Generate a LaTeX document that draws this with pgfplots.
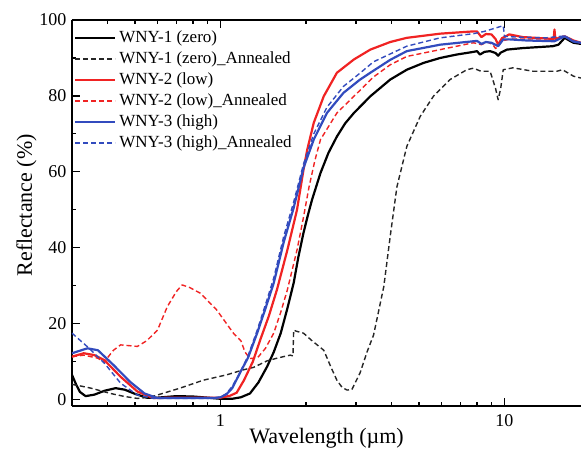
\documentclass[border=0pt]{standalone}
\usepackage{fontspec}
\setmainfont{LiberationSerif}[Extension=.ttf, UprightFont=*-Regular, BoldFont=*-Bold, ItalicFont=*-Italic, BoldItalicFont=*-BoldItalic]
\usepackage{pgfplots}
\pgfplotsset{compat=1.18}
\definecolor{myred}{RGB}{240,35,35}
\definecolor{myblue}{RGB}{50,75,190}
\begin{document}
\begin{tikzpicture}
\begin{axis}[name=ax, scale only axis, width=509pt, height=386pt,
  xmode=log, xmin=0.3, xmax=18.6, ymin=-1.7, ymax=100,
  axis x line*=box, axis y line*=left, tick align=inside,
  xtick={1,10}, xticklabels={1,10},
  minor xtick={0.4,0.5,0.6,0.7,0.8,0.9,2,3,4,5,6,7,8,9,20},
  ytick={0,20,40,60,80,100}, minor ytick={10,30,50,70,90},
  major tick length=8.5pt, minor tick length=4.5pt,
  every tick/.style={black, line width=1.2pt},
  axis line style={line width=1.4pt},
  /pgf/number format/assume math mode=true,
  tick label style={font=\fontsize{18}{21}\selectfont},
  yticklabel style={xshift=-2pt},
  xticklabel style={yshift=-5pt},
  label style={font=\fontsize{22}{26}\selectfont},
  xlabel={Wavelength (µm)}, ylabel={Reflectance (\%)},
  xlabel style={at={([yshift=-37pt]axis description cs:0.5,0)}, anchor=base},
  ylabel style={at={([xshift=-40pt]axis description cs:0,0.52)}, anchor=base},
  legend style={at={(0,1)}, anchor=north west, draw=none, fill=none, inner sep=0pt,
    xshift=2pt, yshift=-9pt, font=\fontsize{17}{20}\selectfont,
    nodes={inner xsep=3pt, inner ysep=1pt, text height=12pt, text depth=4pt},
    row sep=3pt},
  legend cell align=left,
  legend image code/.code={\draw[#1] (0pt,0pt) -- (40pt,0pt);},
  every axis plot/.append style={line join=round},
]
% WNY-1 (zero)
\addplot[black, line width=2.2pt] coordinates {
(0.300,6.5)(0.310,4.0)(0.320,2.0)(0.335,0.9)(0.36,1.3)(0.39,2.3)(0.427,3.0)(0.46,2.6)(0.50,1.5)(0.55,0.5)(0.60,0.5)(0.70,0.9)(0.80,0.8)(0.90,0.5)(1.00,0.2)(1.10,0.2)(1.18,0.6)(1.27,1.6)(1.36,4.5)(1.46,8.7)(1.54,12.5)(1.63,17.5)(1.72,24)(1.81,30.7)(1.88,37.5)(1.96,43.9)(2.03,48.5)(2.10,52.6)(2.25,59.7)(2.40,65)(2.57,69.3)(2.75,72.8)(2.95,75.5)(3.37,79.9)(3.96,84.3)(4.53,86.9)(5.19,88.7)(5.94,90)(6.79,90.9)(7.78,91.6)(8.0,91.8)(8.2,90.9)(8.5,91.6)(8.9,91.8)(9.3,91.3)(9.5,90.6)(9.7,91.4)(10.2,92.2)(11.6,92.6)(14.8,93.1)(15.5,93.5)(16.3,95.3)(17.0,94.5)(17.5,94)(18.6,93.7)};
\addlegendentry{WNY-1 (zero)}
\addplot[black!85, line width=1.4pt, dash pattern=on 5pt off 3pt] coordinates {
(0.300,4.0)(0.32,3.6)(0.35,3.0)(0.41,1.6)(0.46,0.8)(0.51,0.3)(0.56,0.6)(0.60,1.2)(0.72,3.0)(0.87,5.1)(1.05,6.5)(1.20,7.8)(1.31,8.5)(1.46,10.2)(1.60,11.0)(1.76,11.7)(1.80,11.5)(1.81,18.3)(1.85,18.0)(1.96,17.5)(2.10,15.5)(2.31,13)(2.45,8.5)(2.57,5.1)(2.68,3.2)(2.79,2.5)(2.90,2.6)(3.10,7)(3.28,12.5)(3.46,17)(3.76,29.8)(3.96,43)(4.18,56)(4.53,66.7)(5.05,74.6)(5.62,79.9)(6.43,84.3)(7.37,86.9)(7.78,87.3)(8.2,86.6)(8.44,86.5)(8.9,86.5)(9.3,82)(9.5,79)(9.7,82)(9.9,86.9)(10.7,87.4)(12.6,86.5)(15.3,86.5)(16.0,86.9)(17.5,85.2)(18.6,84.7)};
\addlegendentry{WNY-1 (zero)\_Annealed}
% WNY-2 (low)
\addplot[myred, line width=2.2pt] coordinates {
(0.300,11.3)(0.33,12.2)(0.36,11.7)(0.39,10.4)(0.445,6.0)(0.51,2.1)(0.58,0.4)(0.70,0.5)(0.85,0.5)(1.00,0.5)(1.08,1.0)(1.14,1.8)(1.21,5.1)(1.30,10)(1.38,15.7)(1.48,22)(1.58,28.9)(1.72,39.4)(1.86,50)(1.96,60.5)(2.02,65.8)(2.13,72.9)(2.31,79.9)(2.57,86.1)(2.95,89.6)(3.37,92.2)(3.96,94.2)(4.53,95.3)(5.94,96.4)(7.78,97)(8.0,97)(8.3,95.5)(8.6,96.3)(9.0,96.2)(9.3,95.0)(9.5,93.5)(9.8,95.2)(10.4,96.2)(11.6,95.5)(14.9,95.0)(15.0,97.5)(15.1,95.0)(16.3,95.7)(17.5,94.6)(18.6,94.0)};
\addlegendentry{WNY-2 (low)}
\addplot[myred, line width=1.4pt, dash pattern=on 5pt off 3pt] coordinates {
(0.300,11.3)(0.33,11.7)(0.37,10.9)(0.39,9.8)(0.40,11)(0.42,13)(0.445,14.4)(0.51,14.0)(0.55,15.5)(0.60,18.3)(0.65,24.5)(0.70,28.5)(0.733,30.2)(0.78,29.5)(0.85,28)(0.97,23.6)(1.11,17.5)(1.18,15.5)(1.22,12.5)(1.27,10.8)(1.35,11)(1.44,13.5)(1.54,17.5)(1.63,23)(1.72,28.9)(1.86,39.4)(1.96,48)(2.05,56)(2.15,63)(2.25,68.5)(2.57,75.5)(2.95,79.9)(3.46,85)(3.96,88.2)(4.53,90.4)(5.94,92.2)(7.78,94)(8.3,93.5)(8.7,94.2)(9.1,93.5)(9.3,92.5)(9.5,93.0)(9.8,94.5)(10.5,95.0)(12,95)(14,95)(16.3,95.7)(17.5,94.5)(18.6,94)};
\addlegendentry{WNY-2 (low)\_Annealed}
% WNY-3 (high)
\addplot[myblue, line width=2.2pt] coordinates {
(0.300,12.2)(0.34,13.5)(0.37,13.0)(0.42,9.1)(0.48,4.7)(0.54,1.6)(0.60,0.4)(0.75,0.4)(0.95,0.4)(1.00,0.6)(1.05,1.4)(1.10,3.0)(1.18,7.5)(1.25,11)(1.346,17.5)(1.44,24)(1.54,30.7)(1.67,41.5)(1.81,50.5)(1.96,61)(2.13,68.5)(2.37,75.5)(2.71,80.8)(3.1,84.3)(3.37,86.1)(3.96,89.5)(4.53,91.8)(5.94,93.5)(7.78,94.4)(8.0,94.5)(8.3,93.7)(8.6,94.2)(9.0,94)(9.5,93.1)(9.9,94.9)(10.4,94.9)(12,94.6)(15,94.4)(16.3,95.7)(17.5,94.3)(18.6,94)};
\addlegendentry{WNY-3 (high)}
\addplot[myblue, line width=1.4pt, dash pattern=on 5pt off 3pt] coordinates {
(0.300,17.5)(0.34,13.9)(0.39,9.6)(0.445,4.3)(0.51,1.2)(0.58,0.3)(0.90,0.3)(1.00,0.6)(1.05,1.6)(1.10,3.5)(1.17,7)(1.25,11.5)(1.35,18.5)(1.44,25)(1.54,32)(1.67,43)(1.81,52)(1.96,62)(2.13,70)(2.37,77)(2.71,82.5)(3.1,86)(3.46,89)(4.53,93.1)(5.94,95.3)(7.78,96.4)(8.5,97)(9.9,98.5)(10.0,95.7)(11,95.5)(14,95.3)(16.3,95.8)(17.5,94.5)(18.6,94)};
\addlegendentry{WNY-3 (high)\_Annealed}
\end{axis}
\pgfresetboundingbox
\path[use as bounding box] ([xshift=-72pt,yshift=-44pt]ax.south west) rectangle ([yshift=20pt]ax.north east);
\end{tikzpicture}
\end{document}
